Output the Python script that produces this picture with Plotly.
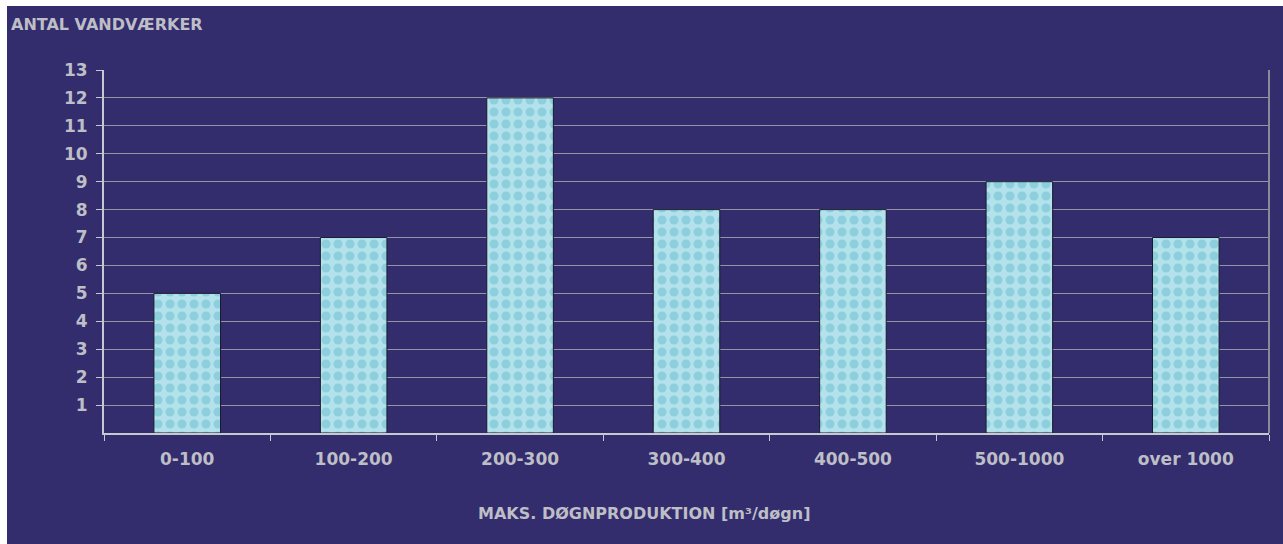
import plotly.graph_objects as go

# Waterworks counted per maximum daily production class
categories = ["0-100", "100-200", "200-300", "300-400", "400-500", "500-1000", "over 1000"]
counts = [5, 7, 12, 8, 8, 9, 7]
y_ticks = list(range(1, 14))

W, H = 1283, 544
L, R, T, B = 104, 14, 70, 111
pw, ph = W - L - R, H - T - B

def px_x(px):
    return (px - L) / pw

def px_y(py):
    return (H - B - py) / ph

navy = "#332D6E"
label_grey = "#BEBEC6"
font = "DejaVu Sans"

fig = go.Figure()
fig.add_trace(go.Bar(
    x=categories,
    y=counts,
    width=0.4,
    marker=dict(
        color="#A9DDE8",
        line=dict(color="#1a1a2a", width=1),
        pattern=dict(shape=".", fgcolor="#8ECFDD", bgcolor="#B4E2EC",
                     size=12, solidity=0.45, fillmode="replace"),
    ),
    hoverinfo="x+y",
))

fig.update_layout(
    width=W, height=H,
    margin=dict(l=L, r=R, t=T, b=B, pad=0),
    paper_bgcolor="white",
    plot_bgcolor=navy,
    showlegend=False,
    shapes=[
        # chart background panel
        dict(type="rect", xref="paper", yref="paper", layer="below",
             x0=px_x(7), x1=px_x(W + 2), y0=px_y(H + 2), y1=px_y(6),
             fillcolor=navy, line=dict(width=0)),
        # right border of plotting area
        dict(type="line", xref="paper", yref="paper", layer="above",
             x0=1, x1=1, y0=0, y1=1, line=dict(color="#8A8A96", width=2)),
    ],
    annotations=[
        dict(text="ANTAL VANDVÆRKER", xref="paper", yref="paper",
             x=px_x(9), y=px_y(24), xanchor="left", yanchor="middle",
             showarrow=False,
             font=dict(family=font, size=16, weight="bold", color=label_grey)),
        dict(text="MAKS. DØGNPRODUKTION [m³/døgn]", xref="paper", yref="paper",
             x=px_x(644), y=px_y(513), xanchor="center", yanchor="middle",
             showarrow=False,
             font=dict(family=font, size=16, weight="bold", color=label_grey)),
    ],
    font=dict(family=font, color=label_grey),
)

fig.update_xaxes(
    showgrid=False,
    showline=True, linecolor="#C8C8D0", linewidth=2,
    ticks="outside", tickson="boundaries", ticklen=6, tickcolor="#C8C8D0", tickwidth=1,
    tickfont=dict(family=font, size=17, weight="bold", color=label_grey),
    ticklabelstandoff=10,
    fixedrange=True,
)
fig.update_yaxes(
    range=[0, 13],
    tickvals=y_ticks,
    showgrid=True, gridcolor="#9494A2", gridwidth=1,
    showline=True, linecolor="#C8C8D0", linewidth=2,
    ticks="outside", ticklen=6, tickcolor="#C8C8D0", tickwidth=1,
    tickfont=dict(family=font, size=17, weight="bold", color=label_grey),
    ticklabelstandoff=5,
    zeroline=False,
    fixedrange=True,
)

fig.write_html("out.html")
